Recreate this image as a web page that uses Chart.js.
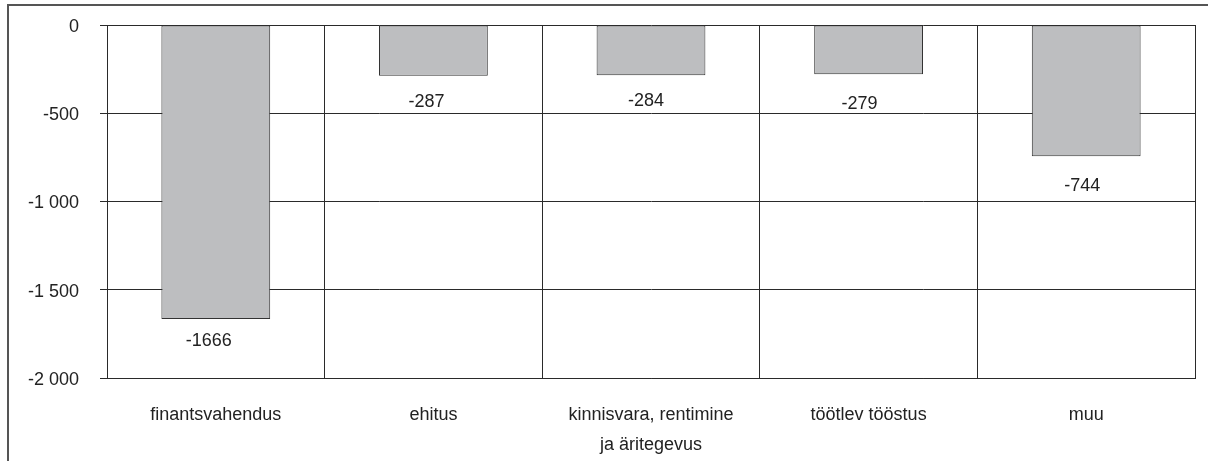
<!DOCTYPE html>
<html>
<head>
<meta charset="utf-8">
<script src="https://cdn.jsdelivr.net/npm/chart.js@4"></script>
<style>
	html, body { margin: 0; padding: 0; background: #fff; overflow: hidden; }
	#wrap { position: relative; width: 1208px; height: 461px; }
	#frame {
		position: absolute; left: 7px; top: 4px; width: 1400px; height: 700px;
		border-left: 2px solid #555; border-top: 2px solid #555;
	}
	#myChart { position: absolute; left: 0; top: 0; }
</style>
</head>
<body>
<div id="wrap">
	<div id="frame"></div>
	<canvas id="myChart" width="1208" height="461"></canvas>
</div>
<script>
const categories = [
	'finantsvahendus',
	'ehitus',
	['kinnisvara, rentimine', 'ja äritegevus'],
	'töötlev tööstus',
	'muu'
]
const values = [-1666, -287, -284, -279, -744]
const yTicks = [0, -500, -1000, -1500, -2000]

const FONT = 'Arial, "Liberation Sans", sans-serif'
const TEXT = '#222'
const LINE = '#2a2a2a'

// label spots as they sit in the original, a bit off the bar centre
const labelShiftX = [-7, -7, -5, -9, -4]
const labelShiftY = [22, 26, 26, 30, 30]

function formatTick(v) {
	const s = String(Math.abs(v))
	const withSpace = s.length > 3 ? s.slice(0, -3) + ' ' + s.slice(-3) : s
	return (v < 0 ? '-' : '') + withSpace
}

const valueLabels = {
	id: 'valueLabels',
	afterDatasetsDraw(chart) {
		const ctx = chart.ctx
		const meta = chart.getDatasetMeta(0)
		ctx.save()
		ctx.fillStyle = TEXT
		ctx.font = '18px ' + FONT
		ctx.textAlign = 'center'
		ctx.textBaseline = 'middle'
		meta.data.forEach((bar, i) => {
			ctx.fillText(String(values[i]), bar.x + labelShiftX[i], bar.y + labelShiftY[i])
		})
		ctx.restore()
	}
}

new Chart(document.getElementById('myChart'), {
	type: 'bar',
	data: {
		labels: categories,
		datasets: [{
			data: values,
			backgroundColor: '#bdbec0',
			borderColor: '#333',
			borderWidth: 1,
			borderSkipped: false,
			barPercentage: 0.5,
			categoryPercentage: 1
		}]
	},
	options: {
		responsive: false,
		animation: false,
		devicePixelRatio: 1,
		layout: { padding: { left: 0, right: 13, top: 25, bottom: 0 } },
		plugins: {
			legend: { display: false },
			tooltip: { enabled: false },
			title: { display: false }
		},
		scales: {
			x: {
				grid: {
					offset: true,
					color: LINE,
					lineWidth: 1,
					drawTicks: false
				},
				border: { display: true, color: LINE, width: 1 },
				ticks: {
					color: TEXT,
					font: { family: FONT, size: 18, lineHeight: 30 / 18 },
					padding: 22,
					maxRotation: 0,
					autoSkip: false
				},
				afterFit(scale) { scale.height = 83 }
			},
			y: {
				min: -2000,
				max: 0,
				afterBuildTicks(scale) {
					scale.ticks = yTicks.map(v => ({ value: v }))
				},
				grid: {
					color: LINE,
					lineWidth: 1,
					drawTicks: true,
					tickLength: 7
				},
				border: { display: true, color: LINE, width: 1 },
				ticks: {
					color: TEXT,
					font: { family: FONT, size: 18 },
					padding: 21,
					labelOffset: 2,
					callback: v => formatTick(v)
				},
				afterFit(scale) {
					scale.width = 107
					// the label padding would otherwise push the plot top down
					scale.paddingTop = 0
					scale.paddingBottom = 0
				}
			}
		}
	},
	plugins: [valueLabels]
})
</script>
</body>
</html>
